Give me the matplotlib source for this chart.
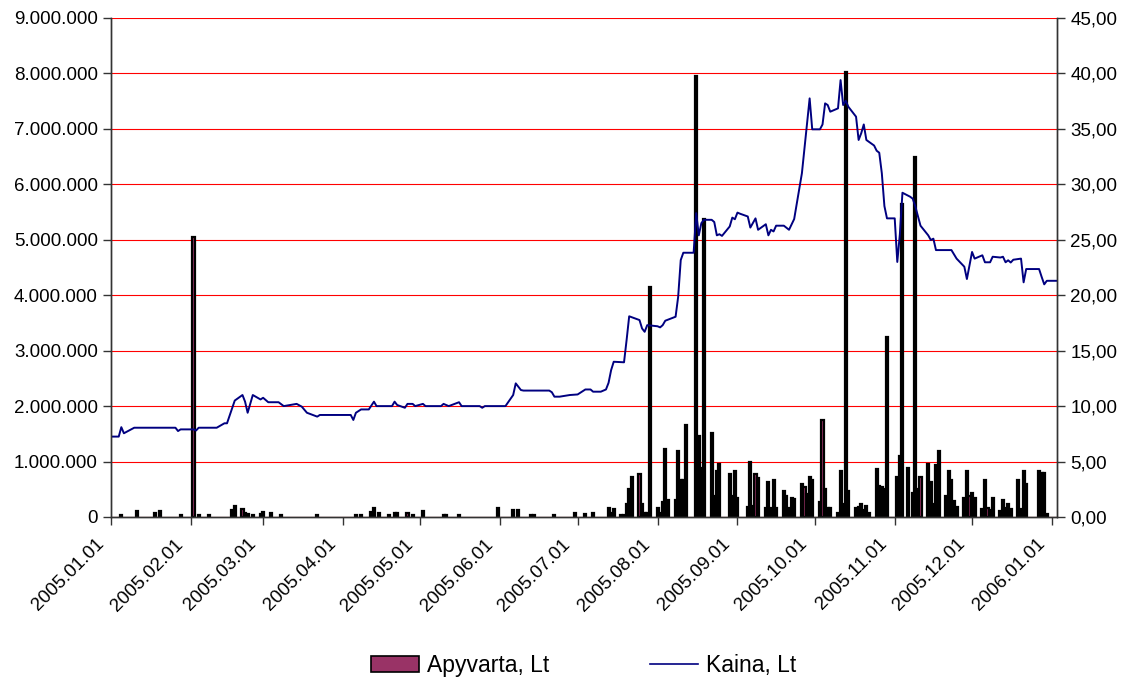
import matplotlib
matplotlib.use("Agg")
import matplotlib.pyplot as plt
import matplotlib.dates as mdates
import matplotlib.transforms as mtransforms
import numpy as np
from matplotlib.patches import Patch
from matplotlib.lines import Line2D
from matplotlib.ticker import FuncFormatter, MultipleLocator

plt.rcParams["font.family"] = ["Liberation Sans", "DejaVu Sans"]

# Kaina, Lt (price) - dates where the line changes and the value there
price_dates = [
    "2005-01-01", "2005-01-04", "2005-01-05", "2005-01-06", "2005-01-10", "2005-01-26",
    "2005-01-27", "2005-01-28", "2005-02-02", "2005-02-03", "2005-02-04", "2005-02-11",
    "2005-02-14", "2005-02-15", "2005-02-18", "2005-02-21", "2005-02-22", "2005-02-23",
    "2005-02-25", "2005-02-28", "2005-03-01", "2005-03-03", "2005-03-07", "2005-03-09",
    "2005-03-14", "2005-03-16", "2005-03-18", "2005-03-22", "2005-03-23", "2005-04-04",
    "2005-04-05", "2005-04-06", "2005-04-08", "2005-04-11", "2005-04-13", "2005-04-14",
    "2005-04-20", "2005-04-21", "2005-04-22", "2005-04-25", "2005-04-26", "2005-04-28",
    "2005-04-29", "2005-05-02", "2005-05-03", "2005-05-09", "2005-05-10", "2005-05-12",
    "2005-05-16", "2005-05-17", "2005-05-24", "2005-05-25", "2005-05-26", "2005-06-03",
    "2005-06-06", "2005-06-07", "2005-06-09", "2005-06-10", "2005-06-20", "2005-06-21",
    "2005-06-22", "2005-06-24", "2005-06-28", "2005-07-01", "2005-07-04", "2005-07-06",
    "2005-07-07", "2005-07-10", "2005-07-12", "2005-07-13", "2005-07-14", "2005-07-15",
    "2005-07-19", "2005-07-20", "2005-07-21", "2005-07-25", "2005-07-26", "2005-07-27",
    "2005-07-28", "2005-08-01", "2005-08-02", "2005-08-03", "2005-08-04", "2005-08-08",
    "2005-08-09", "2005-08-10", "2005-08-11", "2005-08-15", "2005-08-16", "2005-08-17",
    "2005-08-18", "2005-08-19", "2005-08-22", "2005-08-23", "2005-08-24", "2005-08-25",
    "2005-08-26", "2005-08-29", "2005-08-30", "2005-08-31", "2005-09-01", "2005-09-02",
    "2005-09-05", "2005-09-06", "2005-09-08", "2005-09-09", "2005-09-12", "2005-09-13",
    "2005-09-14", "2005-09-15", "2005-09-16", "2005-09-19", "2005-09-21", "2005-09-23",
    "2005-09-26", "2005-09-29", "2005-09-30", "2005-10-03", "2005-10-04", "2005-10-05",
    "2005-10-06", "2005-10-07", "2005-10-10", "2005-10-11", "2005-10-12", "2005-10-13",
    "2005-10-14", "2005-10-17", "2005-10-18", "2005-10-19", "2005-10-20", "2005-10-21",
    "2005-10-24", "2005-10-25", "2005-10-26", "2005-10-27", "2005-10-28", "2005-10-29",
    "2005-11-01", "2005-11-02", "2005-11-03", "2005-11-04", "2005-11-07", "2005-11-08",
    "2005-11-09", "2005-11-11", "2005-11-14", "2005-11-15", "2005-11-16", "2005-11-17",
    "2005-11-23", "2005-11-25", "2005-11-28", "2005-11-29", "2005-12-01", "2005-12-02",
    "2005-12-05", "2005-12-06", "2005-12-08", "2005-12-09", "2005-12-12", "2005-12-13",
    "2005-12-14", "2005-12-15", "2005-12-16", "2005-12-17", "2005-12-20", "2005-12-21",
    "2005-12-22", "2005-12-27", "2005-12-28", "2005-12-29", "2005-12-30", "2006-01-03",
]
price = [
    7.25, 7.25, 8.10, 7.55, 8.05, 8.05,
    7.75, 7.90, 7.90, 7.80, 8.05, 8.05,
    8.45, 8.45, 10.50, 11.00, 10.40, 9.40,
    11.00, 10.60, 10.75, 10.35, 10.35, 10.00,
    10.20, 9.95, 9.40, 9.05, 9.20, 9.20,
    8.75, 9.40, 9.70, 9.70, 10.40, 10.00,
    10.00, 10.40, 10.10, 9.85, 10.20, 10.20,
    10.00, 10.20, 10.00, 10.00, 10.20, 10.00,
    10.35, 10.00, 10.00, 9.85, 10.00, 10.00,
    11.00, 12.05, 11.45, 11.40, 11.40, 11.25,
    10.85, 10.85, 11.00, 11.05, 11.50, 11.50,
    11.30, 11.30, 11.50, 12.10, 13.25, 14.00,
    13.95, 15.96, 18.10, 17.76, 17.00, 16.70,
    17.30, 17.20, 17.10, 17.30, 17.70, 18.06,
    19.86, 23.17, 23.83, 23.83, 27.40, 25.40,
    26.50, 26.80, 26.80, 26.60, 25.40, 25.50,
    25.35, 26.20, 27.00, 26.85, 27.45, 27.35,
    27.10, 26.10, 26.93, 25.90, 26.40, 25.40,
    25.90, 25.75, 26.27, 26.27, 25.90, 26.87,
    31.00, 37.75, 34.96, 34.96, 35.40, 37.30,
    37.15, 36.55, 36.85, 39.40, 37.15, 37.54,
    37.00, 36.10, 34.00, 34.60, 35.40, 34.00,
    33.50, 33.03, 32.85, 31.00, 28.04, 26.93,
    26.93, 23.00, 25.50, 29.24, 28.88, 28.70,
    28.00, 26.27, 25.40, 24.98, 25.10, 24.07,
    24.07, 23.30, 22.57, 21.46, 23.90, 23.30,
    23.60, 22.97, 22.97, 23.47, 23.40, 23.47,
    22.97, 23.15, 22.95, 23.20, 23.30, 21.16,
    22.36, 22.36, 21.65, 20.98, 21.30, 21.30,
]

# Apyvarta, Lt (turnover), millions of Lt
vol_dates = [
    "2005-01-05", "2005-01-11", "2005-01-18", "2005-01-20", "2005-01-28", "2005-02-02",
    "2005-02-04", "2005-02-08", "2005-02-17", "2005-02-18", "2005-02-21", "2005-02-22",
    "2005-02-23", "2005-02-25", "2005-02-28", "2005-03-01", "2005-03-04", "2005-03-08",
    "2005-03-22", "2005-04-06", "2005-04-08", "2005-04-12", "2005-04-13", "2005-04-15",
    "2005-04-19", "2005-04-21", "2005-04-22", "2005-04-26", "2005-04-28", "2005-05-02",
    "2005-05-10", "2005-05-11", "2005-05-16", "2005-05-31", "2005-06-06", "2005-06-08",
    "2005-06-13", "2005-06-14", "2005-06-22", "2005-06-30", "2005-07-04", "2005-07-07",
    "2005-07-13", "2005-07-14", "2005-07-15", "2005-07-18", "2005-07-19", "2005-07-20",
    "2005-07-21", "2005-07-22", "2005-07-25", "2005-07-26", "2005-07-27", "2005-07-28",
    "2005-07-29", "2005-08-01", "2005-08-02", "2005-08-03", "2005-08-04", "2005-08-05",
    "2005-08-08", "2005-08-09", "2005-08-10", "2005-08-11", "2005-08-12", "2005-08-16",
    "2005-08-17", "2005-08-18", "2005-08-19", "2005-08-22", "2005-08-23", "2005-08-24",
    "2005-08-25", "2005-08-29", "2005-08-30", "2005-08-31", "2005-09-01", "2005-09-05",
    "2005-09-06", "2005-09-07", "2005-09-08", "2005-09-09", "2005-09-12", "2005-09-13",
    "2005-09-14", "2005-09-15", "2005-09-16", "2005-09-19", "2005-09-20", "2005-09-21",
    "2005-09-22", "2005-09-23", "2005-09-26", "2005-09-27", "2005-09-28", "2005-09-29",
    "2005-09-30", "2005-10-03", "2005-10-04", "2005-10-05", "2005-10-06", "2005-10-07",
    "2005-10-10", "2005-10-11", "2005-10-12", "2005-10-13", "2005-10-14", "2005-10-17",
    "2005-10-18", "2005-10-19", "2005-10-20", "2005-10-21", "2005-10-22", "2005-10-25",
    "2005-10-26", "2005-10-27", "2005-10-28", "2005-10-29", "2005-11-02", "2005-11-03",
    "2005-11-04", "2005-11-06", "2005-11-08", "2005-11-09", "2005-11-10", "2005-11-11",
    "2005-11-14", "2005-11-15", "2005-11-16", "2005-11-17", "2005-11-18", "2005-11-21",
    "2005-11-22", "2005-11-23", "2005-11-24", "2005-11-25", "2005-11-28", "2005-11-29",
    "2005-11-30", "2005-12-01", "2005-12-02", "2005-12-05", "2005-12-06", "2005-12-07",
    "2005-12-08", "2005-12-09", "2005-12-12", "2005-12-13", "2005-12-14", "2005-12-15",
    "2005-12-16", "2005-12-19", "2005-12-20", "2005-12-21", "2005-12-22", "2005-12-27",
    "2005-12-28", "2005-12-29", "2005-12-30",
]
vol_mln = [
    0.04, 0.10, 0.075, 0.10, 0.04, 5.05,
    0.04, 0.04, 0.13, 0.20, 0.14, 0.075,
    0.06, 0.04, 0.06, 0.09, 0.075, 0.04,
    0.04, 0.04, 0.04, 0.09, 0.17, 0.07,
    0.04, 0.075, 0.075, 0.07, 0.04, 0.10,
    0.04, 0.04, 0.04, 0.17, 0.13, 0.135,
    0.04, 0.04, 0.04, 0.07, 0.045, 0.075,
    0.17, 0.07, 0.14, 0.04, 0.04, 0.24,
    0.50, 0.72, 0.77, 0.24, 0.08, 0.08,
    4.15, 0.17, 0.07, 0.27, 1.22, 0.31,
    0.31, 1.19, 0.67, 0.67, 1.66, 7.95,
    1.46, 0.88, 5.38, 1.52, 0.37, 0.83,
    0.96, 0.77, 0.37, 0.83, 0.35, 0.18,
    1.00, 0.19, 0.77, 0.70, 0.17, 0.63,
    0.17, 0.66, 0.17, 0.47, 0.37, 0.17,
    0.35, 0.33, 0.60, 0.54, 0.42, 0.72,
    0.66, 0.27, 1.75, 0.50, 0.17, 0.17,
    0.07, 0.83, 0.23, 8.02, 0.46, 0.17,
    0.18, 0.23, 0.12, 0.20, 0.07, 0.86,
    0.55, 0.54, 0.51, 3.25, 0.72, 1.10,
    5.65, 0.89, 0.43, 6.50, 0.51, 0.72,
    0.96, 0.63, 0.24, 0.93, 1.19, 0.37,
    0.83, 0.67, 0.29, 0.18, 0.34, 0.83,
    0.37, 0.43, 0.34, 0.15, 0.67, 0.17,
    0.12, 0.34, 0.11, 0.31, 0.17, 0.24,
    0.15, 0.67, 0.15, 0.83, 0.60, 0.83,
    0.80, 0.80, 0.06,
]

px = mdates.datestr2num(price_dates)
vx = mdates.datestr2num(vol_dates)
vol = np.array(vol_mln) * 1e6

fig = plt.figure(figsize=(11.27, 6.79), dpi=100)
ax = fig.add_axes([0.0985, 0.2386, 0.8395, 0.7349])
ax2 = ax.twinx()

# narrow bars: the black outline covers the fill, as in the original
ax.bar(vx, vol, width=0.8, color="#993366", edgecolor="black", linewidth=1.6, zorder=2)
ax2.plot(px, price, color="#000080", linewidth=1.4)

ax.set_ylim(0, 9e6)
ax2.set_ylim(0, 45)
ax.set_xlim(mdates.datestr2num("2005-01-01"), mdates.datestr2num("2006-01-03"))

ax.yaxis.set_major_locator(MultipleLocator(1e6))
ax.yaxis.set_major_formatter(FuncFormatter(lambda v, p: f"{int(round(v)):,}".replace(",", ".")))
ax2.yaxis.set_major_locator(MultipleLocator(5))
ax2.yaxis.set_major_formatter(FuncFormatter(lambda v, p: f"{v:.2f}".replace(".", ",")))

ax.xaxis.set_major_locator(mdates.MonthLocator())
ax.xaxis.set_major_formatter(mdates.DateFormatter("%Y.%m.%d"))

ax.grid(axis="y", color="red", linewidth=0.8)
ax.set_axisbelow(True)

for a in (ax, ax2):
    a.spines["top"].set_visible(False)
    for s in ("left", "right", "bottom"):
        a.spines[s].set_color("#333333")
        a.spines[s].set_linewidth(1.0)
    a.tick_params(labelsize=13.5, length=6, width=1, color="#333333")
ax.tick_params(axis="x", pad=6)

# rotated date labels, nudged left so they end just before the tick
shift = mtransforms.ScaledTranslation(-16 / 100, -2 / 100, fig.dpi_scale_trans)
for lab in ax.get_xticklabels():
    lab.set_rotation(45)
    lab.set_ha("right")
    lab.set_rotation_mode("anchor")
    lab.set_transform(lab.get_transform() + shift)

handles = [Patch(facecolor="#993366", edgecolor="black", linewidth=1.2),
           Line2D([], [], color="#000080", linewidth=1.2)]
fig.legend(handles, ["Apyvarta, Lt", "Kaina, Lt"], loc="center", ncol=2,
           bbox_to_anchor=(0.518, 0.02), frameon=False, fontsize=16.5,
           handlelength=2.1, handleheight=0.7, columnspacing=4.4, handletextpad=0.35)

fig.savefig("out.png", dpi=100)
